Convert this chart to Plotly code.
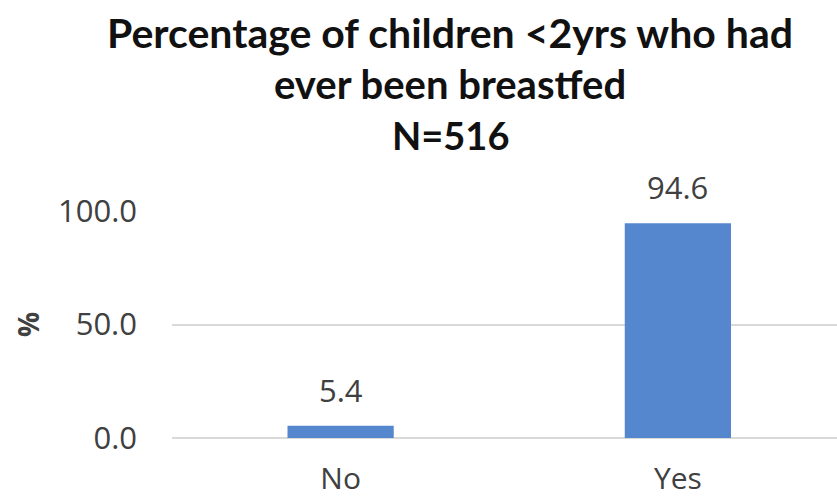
import plotly.graph_objects as go

# Breastfeeding survey result, children under 2 years
categories = ["No", "Yes"]
percentages = [5.4, 94.6]
y_ticks = [0, 50, 100]
y_tick_labels = ["0.0", "50.0", "100.0"]
title_lines = ["Percentage of children <2yrs who had", "ever been breastfed", "N=516"]

bar_color = "#5587CE"
grid_color = "#D9D9D9"
text_color = "#404040"

# plot area spans pixel rows 211 (y=100) to 438 (y=0)
PLOT_TOP, PLOT_BOTTOM = 211, 438


def paper_y(px):
    return (PLOT_BOTTOM - px) / (PLOT_BOTTOM - PLOT_TOP)


fig = go.Figure(
    go.Bar(
        x=categories,
        y=percentages,
        marker=dict(color=bar_color, line=dict(width=0)),
        width=0.315,
        hoverinfo="x+y",
    )
)

# value labels above each bar
for cat, val in zip(categories, percentages):
    fig.add_annotation(
        x=cat, y=val, text=f"{val:.1f}", showarrow=False,
        yanchor="bottom", yshift=13,
        font=dict(family="Open Sans", size=31, color=text_color),
    )

# three-line chart heading
title_rows = [(title_lines[0], 33, 41), (title_lines[1], 84, 40), (title_lines[2], 135, 38)]
for text, ypx, size in title_rows:
    fig.add_annotation(
        xref="paper", yref="paper",
        x=(450 - 172) / (837 - 172), y=paper_y(ypx),
        xanchor="center", yanchor="middle",
        text=f"<b>{text.replace('<', '&lt;')}</b>", showarrow=False,
        font=dict(family="Lato", size=size, color="#111111"),
    )

fig.update_layout(
    width=837,
    height=500,
    margin=dict(l=172, r=0, t=PLOT_TOP, b=500 - PLOT_BOTTOM, autoexpand=False),
    paper_bgcolor="white",
    plot_bgcolor="white",
    showlegend=False,
    xaxis=dict(
        range=[-0.5, -0.5 + 664.5 / 337],
        showgrid=False, showline=False, zeroline=False,
        ticks="", ticklabelstandoff=20,
        tickfont=dict(family="Open Sans", size=30, color=text_color),
        fixedrange=True,
    ),
    yaxis=dict(
        range=[0, 100],
        tickvals=y_ticks, ticktext=y_tick_labels,
        showgrid=True, gridcolor=grid_color, gridwidth=1.5,
        zeroline=True, zerolinecolor=grid_color, zerolinewidth=1.5,
        showline=False, ticks="", ticklabelstandoff=34,
        tickfont=dict(family="Open Sans", size=31, color=text_color),
        title=dict(text="<b>%</b>", standoff=10,
                   font=dict(family="Open Sans", size=28, color=text_color)),
        fixedrange=True,
    ),
)

fig.write_html("out.html")
